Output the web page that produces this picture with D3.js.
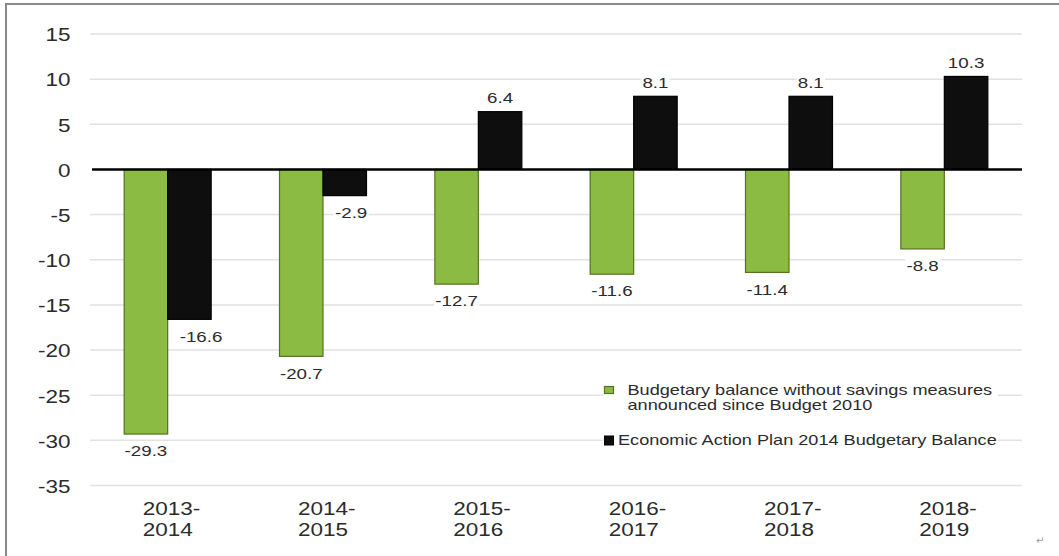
<!DOCTYPE html>
<html>
<head>
<meta charset="utf-8">
<script src="https://cdn.jsdelivr.net/npm/d3@7/dist/d3.min.js"></script>
<style>
  html, body { margin: 0; padding: 0; background: #fff; }
  svg { display: block; }
  text { font-family: "Liberation Sans", Arial, sans-serif; fill: #2b2b2b; }
</style>
</head>
<body>
<svg id="chart" width="1059" height="556"></svg>
<script>
// Fiscal years and budgetary balances ($ billions)
const categories = ["2013-2014", "2014-2015", "2015-2016", "2016-2017", "2017-2018", "2018-2019"];
const withoutSavings = [-29.3, -20.7, -12.7, -11.6, -11.4, -8.8];
const eap2014 = [-16.6, -2.9, 6.4, 8.1, 8.1, 10.3];
const yTicks = [15, 10, 5, 0, -5, -10, -15, -20, -25, -30, -35];
const seriesNames = [
  ["Budgetary balance without savings measures", "announced since Budget 2010"],
  ["Economic Action Plan 2014 Budgetary Balance"]
];

const W = 1059, H = 556;
const svg = d3.select("#chart");
const SX = 1.25; // horizontal stretch of the lettering

const x = d3.scaleBand().domain(categories).range([90, 1022]).paddingInner(0.44).paddingOuter(0.22);
const inner = d3.scaleBand().domain([0, 1]).range([0, x.bandwidth()]);
const y = d3.scaleLinear().domain([-35, 15]).range([485.5, 34]);

// text placed at (px,py) with the lettering stretched horizontally
function label(parent, px, py, str, opts) {
  const g = parent.append("g").attr("transform", `translate(${px},${py})`);
  const s = g.append("g").attr("transform", `scale(${SX},1)`);
  const t = s.append("text")
    .attr("text-anchor", opts.anchor || "middle")
    .attr("dy", opts.dy || "0.35em")
    .style("font-size", opts.size + "px")
    .text(str);
  if (opts.bg) {
    const b = t.node().getBBox();
    s.insert("rect", "text").attr("x", b.x - 1).attr("y", b.y).attr("width", b.width + 2).attr("height", b.height).attr("fill", "#fff");
  }
  return t;
}

// frame
svg.append("path").attr("d", `M6,${H} V4 H${W}`).attr("fill", "none").attr("stroke", "#8a8a8a").attr("stroke-width", 2);

// gridlines
svg.append("g").selectAll("line").data(yTicks.filter(d => d !== 0)).join("line")
  .attr("x1", 90).attr("x2", 1022)
  .attr("y1", d => y(d)).attr("y2", d => y(d))
  .attr("stroke", "#e2e2e2").attr("stroke-width", 1.5);

// y tick labels
const yAxis = svg.append("g");
yTicks.forEach(d => label(yAxis, 70.5, y(d) + 1, String(d), { anchor: "end", size: 18 }));

// bars
const seriesData = [withoutSavings, eap2014];
const fills = ["#8cbb43", "#0e0e0e"];
const strokes = ["#55731f", "#000"];
seriesData.forEach((vals, si) => {
  svg.append("g").selectAll("rect").data(vals).join("rect")
    .attr("x", (d, i) => x(categories[i]) + inner(si))
    .attr("width", inner.bandwidth())
    .attr("y", d => y(Math.max(0, d)))
    .attr("height", d => Math.abs(y(d) - y(0)))
    .attr("fill", fills[si]).attr("stroke", strokes[si]).attr("stroke-width", 1.2);
});

// zero line
svg.append("line").attr("x1", 92).attr("x2", 1022).attr("y1", y(0)).attr("y2", y(0))
  .attr("stroke", "#000").attr("stroke-width", 2.5);

// value labels
const labels = svg.append("g");
withoutSavings.forEach((d, i) => {
  const cx = x(categories[i]) + inner(0) + inner.bandwidth() / 2;
  label(labels, cx, y(d) + 17, d.toFixed(1), { size: 15, bg: true });
});
eap2014.forEach((d, i) => {
  const left = x(categories[i]) + inner(1);
  if (d >= 0) {
    label(labels, left + inner.bandwidth() / 2, y(d) - 14, d.toFixed(1), { size: 15, bg: true });
  } else {
    label(labels, left + 12, y(d) + 17, d.toFixed(1), { size: 15, anchor: "start", bg: true });
  }
});

// category labels, broken after the hyphen
const xAxis = svg.append("g");
categories.forEach(c => {
  const cx = x(c) + x.bandwidth() / 2;
  const parts = [c.slice(0, 5), c.slice(5)];
  label(xAxis, cx - 25, 515, parts[0], { anchor: "start", size: 18, dy: "0" });
  label(xAxis, cx - 25, 536, parts[1], { anchor: "start", size: 18, dy: "0" });
});

// legend
const lg = svg.append("g");
lg.append("rect").attr("x", 603).attr("y", 378).attr("width", 395).attr("height", 73).attr("fill", "#fff");
lg.append("rect").attr("x", 604.5).attr("y", 386.5).attr("width", 9).attr("height", 7)
  .attr("fill", fills[0]).attr("stroke", strokes[0]).attr("stroke-width", 1.2);
label(lg, 627.5, 395, seriesNames[0][0], { anchor: "start", size: 14.5, dy: "0" });
label(lg, 627.5, 410, seriesNames[0][1], { anchor: "start", size: 14.5, dy: "0" });
lg.append("rect").attr("x", 604.5).attr("y", 436).attr("width", 9).attr("height", 9)
  .attr("fill", fills[1]).attr("stroke", strokes[1]).attr("stroke-width", 1);
label(lg, 618, 445, seriesNames[1][0], { anchor: "start", size: 14.5, dy: "0" });

// paragraph mark
svg.append("text").attr("x", 1036).attr("y", 544).style("font-family", "DejaVu Sans")
  .style("font-size", "10px").style("fill", "#9a9a9a").text("\u21B5");
</script>
</body>
</html>
